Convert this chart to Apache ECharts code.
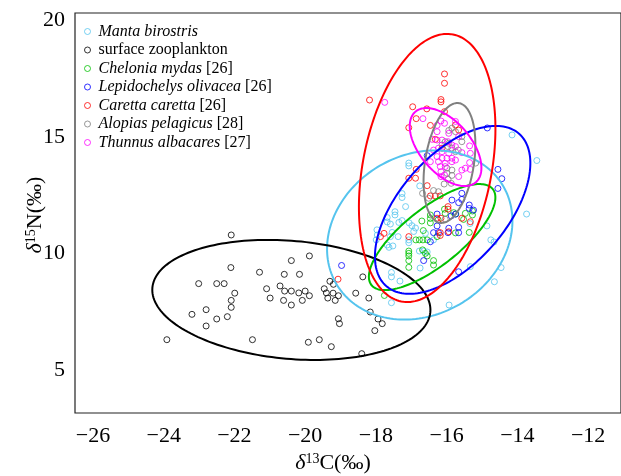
<!DOCTYPE html>
<html><head><meta charset="utf-8">
<script src="https://cdn.jsdelivr.net/npm/echarts@6/dist/echarts.min.js"></script>
<style>html,body{margin:0;padding:0;background:#fff}#c{width:621px;height:476px}</style>
</head><body><div id="c"></div>
<script>
const species = ['Manta birostris','surface zooplankton','Chelonia mydas','Lepidochelys olivacea','Caretta caretta','Alopias pelagicus','Thunnus albacares'];
const refs = ['', '', '[26]', '[26]', '[26]', '[28]', '[27]'];
const italicName = [true, false, true, true, true, true, true];
const colors = ['#55C4EE', '#000000', '#00C000', '#0000FF', '#FF0000', '#808080', '#FF00FF'];
const xTicks = [-26, -24, -22, -20, -18, -16, -14, -12];
const yTicks = [5, 10, 15, 20];

const manta = [[-14.15,15.09],[-13.45,13.99],[-13.74,11.69],[-14.86,11.18],[-14.75,10.58],[-14.66,10.49],[-14.46,9.39],[-14.65,8.78],[-15.93,7.78],[-17.07,13.88],[-17.07,13.76],[-16.76,12.90],[-17.26,12.57],[-17.26,12.40],[-17.16,12.01],[-17.46,11.79],[-17.46,11.65],[-17.68,11.54],[-17.68,11.35],[-17.59,11.26],[-17.35,11.33],[-17.26,11.41],[-17.06,11.31],[-16.98,11.19],[-16.88,11.09],[-16.93,10.94],[-17.97,11.01],[-17.96,10.79],[-17.99,10.58],[-17.54,10.90],[-17.59,10.72],[-17.37,10.72],[-17.07,10.58],[-17.07,10.46],[-17.68,10.36],[-17.63,10.26],[-17.52,10.32],[-16.77,10.10],[-16.65,10.10],[-16.55,10.06],[-16.75,9.37],[-17.56,9.18],[-17.56,8.99],[-17.32,8.81],[-17.56,7.88],[-15.34,11.28],[-16.37,10.58],[-16.60,10.86],[-15.33,9.43]];
const zooplankton = [[-22.09,10.79],[-19.88,9.89],[-20.39,9.69],[-22.10,9.39],[-21.29,9.19],[-20.59,9.10],[-20.16,9.10],[-18.37,8.99],[-23.01,8.70],[-22.50,8.70],[-22.29,8.70],[-19.30,8.80],[-19.20,8.67],[-21.09,8.48],[-20.71,8.60],[-20.58,8.38],[-20.39,8.38],[-20.18,8.30],[-20.00,8.38],[-19.88,8.18],[-19.46,8.48],[-19.40,8.30],[-19.21,8.29],[-19.06,8.18],[-19.36,8.08],[-19.15,7.98],[-18.57,8.29],[-18.20,8.08],[-21.99,8.29],[-22.09,7.98],[-20.99,8.08],[-20.61,7.98],[-20.08,7.98],[-20.39,7.78],[-22.09,7.68],[-22.80,7.58],[-23.20,7.38],[-22.20,7.28],[-22.50,7.18],[-22.80,6.88],[-19.06,7.19],[-19.03,6.98],[-18.16,7.48],[-17.94,7.18],[-17.82,6.98],[-18.03,6.68],[-23.91,6.29],[-21.49,6.29],[-19.91,6.18],[-19.60,6.29],[-19.26,5.99],[-18.40,5.69]];
const chelonia = [[-16.06,11.90],[-16.04,11.72],[-15.80,11.75],[-15.74,11.69],[-15.47,11.72],[-15.27,11.82],[-15.27,11.65],[-16.46,11.65],[-16.46,11.50],[-16.46,11.31],[-16.70,11.39],[-16.24,11.44],[-15.75,10.88],[-15.36,10.90],[-16.66,10.98],[-16.87,10.58],[-16.77,10.58],[-16.67,10.58],[-16.55,10.58],[-17.07,10.10],[-17.07,10.00],[-17.07,9.89],[-16.68,10.15],[-16.60,10.00],[-16.55,9.89],[-17.07,9.69],[-17.07,9.40],[-16.37,9.69],[-16.37,9.50],[-17.76,8.19],[-16.27,10.72],[-15.52,11.46]];
const lepidochelys = [[-14.85,15.39],[-14.55,13.61],[-14.44,13.21],[-14.55,12.79],[-16.55,14.20],[-15.57,12.58],[-15.85,12.29],[-15.66,12.18],[-15.57,12.32],[-15.36,12.08],[-15.36,11.93],[-16.27,11.69],[-15.87,11.61],[-15.75,11.69],[-16.27,11.18],[-15.94,11.08],[-15.96,10.89],[-15.66,11.12],[-15.66,10.89],[-16.37,10.89],[-16.23,10.89],[-16.46,10.50],[-16.65,9.69],[-15.66,9.21],[-18.97,9.48],[-15.24,11.86]];
const caretta = [[-16.06,17.71],[-16.06,17.31],[-18.18,16.59],[-16.16,16.61],[-16.16,16.51],[-16.96,16.30],[-16.56,16.21],[-16.06,16.09],[-16.86,15.79],[-15.75,15.52],[-15.66,15.30],[-17.07,15.40],[-16.46,15.50],[-16.32,14.90],[-16.13,14.52],[-16.86,13.61],[-17.07,13.23],[-16.88,13.23],[-16.55,12.91],[-16.46,12.47],[-16.32,12.47],[-16.18,12.47],[-15.96,12.01],[-15.96,11.90],[-16.16,11.51],[-16.27,11.51],[-15.57,11.51],[-15.33,11.36],[-16.18,10.89],[-16.18,10.77],[-15.94,10.93],[-17.07,10.72],[-17.77,10.86],[-17.87,10.72],[-19.07,8.89]];
const alopias = [[-15.85,15.38],[-15.94,15.28],[-15.75,15.23],[-15.57,15.02],[-15.57,14.80],[-16.04,14.80],[-15.94,14.73],[-16.13,14.66],[-15.96,14.59],[-15.85,14.52],[-15.75,14.37],[-15.18,13.88],[-15.99,13.66],[-15.85,13.58],[-15.99,13.44],[-15.85,13.35],[-15.96,13.18],[-15.87,13.01],[-16.07,12.98],[-16.37,12.70],[-16.23,12.65],[-16.68,12.58],[-16.51,12.37],[-16.04,11.47],[-15.67,14.44]];
const thunnus = [[-17.75,16.49],[-16.67,15.79],[-16.16,15.69],[-16.06,15.59],[-15.75,15.67],[-16.27,15.50],[-16.27,15.23],[-15.94,15.16],[-15.66,15.02],[-16.41,14.90],[-16.27,14.87],[-16.13,14.87],[-15.96,14.80],[-15.85,14.66],[-15.75,14.59],[-15.35,14.62],[-16.23,14.52],[-16.13,14.37],[-15.94,14.30],[-16.37,14.44],[-15.57,14.33],[-15.33,14.30],[-16.27,14.16],[-16.13,14.09],[-15.99,14.09],[-15.85,14.09],[-16.23,13.94],[-16.04,13.87],[-15.85,13.94],[-15.75,14.01],[-15.35,13.90],[-15.47,13.66],[-15.33,13.61],[-16.18,13.73],[-16.04,13.73],[-16.16,13.51],[-16.16,13.30],[-16.06,13.37],[-15.66,13.30],[-15.57,13.58],[-16.46,13.94]];
const pointSets = [manta, zooplankton, chelonia, lepidochelys, caretta, alopias, thunnus];

// ellipse parameters: centre (x, y) and two conjugate half-axis vectors, in data units
const ellManta = [-16.76, 10.79, 2.366, 2.084, -1.127, 2.977];
const ellZoo = [-20.39, 8.00, 3.929, -0.525, 0.145, 2.526];
const ellChelonia = [-16.41, 10.70, 1.716, 2.060, -0.503, 0.976];
const ellLepido = [-15.83, 11.87, 1.878, 3.272, -1.140, 1.523];
const ellCaretta = [-16.55, 13.67, 0.731, 5.737, -1.786, 0.530];
const ellAlopias = [-15.92, 13.885, 0.270, 2.571, -0.681, 0.167];
const ellThunnus = [-16.03, 14.57, 0.854, -1.515, 0.545, 0.715];
const ellipses = [ellManta, ellZoo, ellChelonia, ellLepido, ellCaretta, ellAlopias, ellThunnus];

const FONT = 'Liberation Serif';
const chart = echarts.init(document.getElementById('c'), null, {renderer: 'canvas'});

const series = [];
species.forEach((s, i) => {
  series.push({
    name: s, type: 'scatter', data: pointSets[i], symbol: 'circle', symbolSize: 6,
    itemStyle: {color: 'rgba(0,0,0,0)', borderColor: colors[i], borderWidth: 1},
    emphasis: {disabled: true}, z: 2, silent: true
  });
});
species.forEach((s, i) => {
  series.push({
    name: 'ell_' + i, type: 'custom', data: [ellipses[i]], z: 3, silent: true,
    clip: true,
    renderItem: function (params, api) {
      const cx = api.value(0), cy = api.value(1), ux = api.value(2), uy = api.value(3), vx = api.value(4), vy = api.value(5);
      const pts = [];
      for (let k = 0; k < 180; k++) {
        const t = k / 180 * Math.PI * 2;
        pts.push(api.coord([cx + ux * Math.cos(t) + vx * Math.sin(t), cy + uy * Math.cos(t) + vy * Math.sin(t)]));
      }
      return {type: 'polygon', shape: {points: pts}, style: {fill: 'none', stroke: colors[i], lineWidth: 2}};
    }
  });
});

const minus = v => String(v).replace('-', '\u2212');

chart.setOption({
  backgroundColor: '#fff',
  animation: false,
  grid: {left: 75, top: 13, right: -2, bottom: 63, show: true, borderColor: '#222', borderWidth: 1.2, backgroundColor: 'transparent'},
  xAxis: {
    type: 'value', min: -26.507, max: -11.07,
    axisLine: {show: false}, axisTick: {show: false}, splitLine: {show: false},
    axisLabel: {customValues: xTicks, fontSize: 22, fontFamily: FONT, color: '#000', margin: 12, formatter: minus}
  },
  yAxis: {
    type: 'value', min: 3.14, max: 20.33,
    axisLine: {show: false}, axisTick: {show: false}, splitLine: {show: false},
    axisLabel: {customValues: yTicks, fontSize: 22, fontFamily: FONT, color: '#000', margin: 10}
  },
  legend: {
    orient: 'vertical', left: 79, top: 18, itemWidth: 12, itemHeight: 6, itemGap: 1.5,
    selectedMode: false,
    textStyle: {fontSize: 16, fontFamily: FONT, color: '#000', lineHeight: 17,
      rich: {i: {fontStyle: 'italic', fontSize: 16, fontFamily: FONT, color: '#000'}, n: {fontSize: 16, fontFamily: FONT, color: '#000'}}},
    formatter: function (name) {
      const i = species.indexOf(name);
      const base = italicName[i] ? '{i|' + name + '}' : '{n|' + name + '}';
      return refs[i] ? base + '{n| ' + refs[i] + '}' : base;
    },
    data: species.map((s, i) => ({name: s, icon: 'circle', itemStyle: {color: 'rgba(0,0,0,0)', borderColor: colors[i], borderWidth: 1}}))
  },
  graphic: [
    {type: 'text', x: 333, y: 463, silent: true,
      style: {text: '{d|\u03B4}{s|13}{t|C(\u2030)}', align: 'center', verticalAlign: 'middle',
        rich: {d: {fontSize: 22, fontFamily: FONT, fontStyle: 'italic', fill: '#000'},
               s: {fontSize: 14, fontFamily: FONT, verticalAlign: 'top', fill: '#000'},
               t: {fontSize: 22, fontFamily: FONT, fill: '#000'}}}},
    {type: 'text', x: 35, y: 215, rotation: Math.PI / 2, silent: true,
      style: {text: '{d|\u03B4}{s|15}{t|N(\u2030)}', align: 'center', verticalAlign: 'middle',
        rich: {d: {fontSize: 22, fontFamily: FONT, fontStyle: 'italic', fill: '#000'},
               s: {fontSize: 14, fontFamily: FONT, verticalAlign: 'top', fill: '#000'},
               t: {fontSize: 22, fontFamily: FONT, fill: '#000'}}}}
  ],
  series: series
});
</script></body></html>
